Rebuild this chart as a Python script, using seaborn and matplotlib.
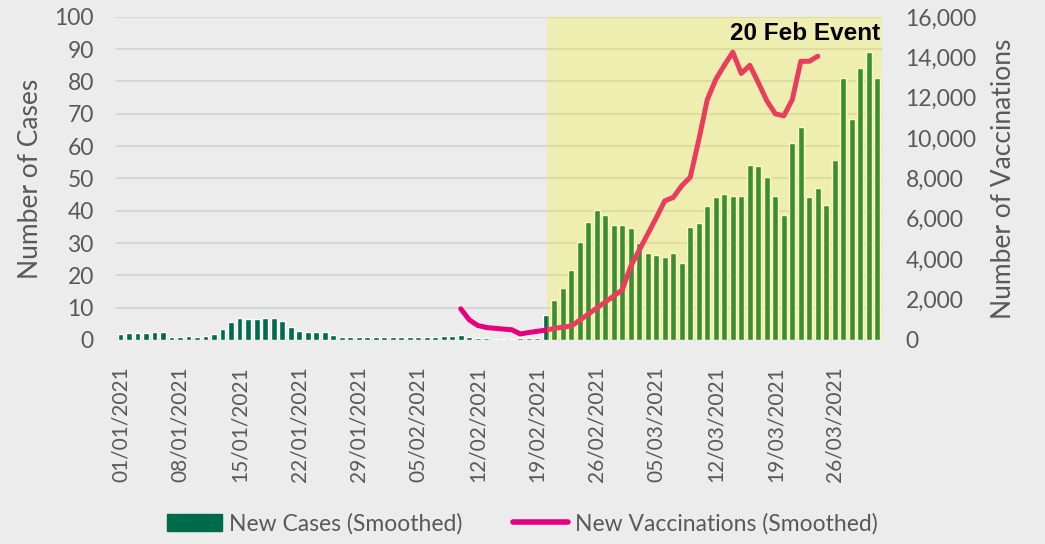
import numpy as np
import pandas as pd
import matplotlib
matplotlib.use("Agg")
import matplotlib.pyplot as plt
import matplotlib.patches as mpatches
import matplotlib.lines as mlines
import seaborn as sns

# dates on the x axis (one bar per day)
dates = pd.date_range("2021-01-01", "2021-03-31", freq="D")
date_labels = [d.strftime("%d/%m/%Y") for d in dates]

# new cases (smoothed)
new_cases = [
    2.0, 2.3, 2.3, 2.3, 2.5, 2.5, 0.95, 0.95, 1.3, 0.95,
    1.3, 1.9, 3.5, 5.5, 6.8, 6.6, 6.6, 6.8, 6.9, 5.9,
    4.1, 2.7, 2.5, 2.5, 2.5, 1.4, 0.8, 0.8, 0.8, 0.8,
    1.0, 0.8, 0.8, 0.8, 0.8, 1.0, 1.0, 0.9, 1.3, 1.3,
    1.4, 0.95, 0.6, 0.5, 0.4, 0.4, 0.3, 0.6, 0.5, 0.5,
    7.6, 12.5, 16.1, 21.8, 30.3, 36.6, 40.3, 38.6, 35.7, 35.6,
    34.7, 30.1, 27.0, 26.3, 25.8, 27.0, 23.7, 34.9, 36.1, 41.6,
    44.2, 45.3, 44.7, 44.7, 54.3, 53.9, 50.3, 44.7, 38.7, 61.1,
    66.0, 44.3, 47.0, 41.7, 55.6, 81.1, 68.3, 84.2, 89.0, 81.1,
]

# new vaccinations (smoothed), starts on 10/02/2021 (day index 40)
vacc_start = 40
new_vacc = [
    1545, 1000, 720, 620, 580, 540, 510, 300, 370, 430,
    490, 570, 640, 690, 980, 1280, 1580, 1880, 2180, 2480,
    3650, 4450, 5250, 6050, 6890, 7060, 7640, 8060, 9900, 11900,
    12900, 13600, 14250, 13200, 13600, 12750, 11850, 11200, 11100, 11900,
    13800, 13800, 14050,
]

event_day = 50  # 20 Feb

cases_df = pd.DataFrame({"day": np.arange(len(dates)), "label": date_labels, "cases": new_cases})
vacc_df = pd.DataFrame({"day": np.arange(vacc_start, vacc_start + len(new_vacc)), "vacc": new_vacc})

sns.set_theme(style="white")
plt.rcParams["font.family"] = ["Lato", "DejaVu Sans"]

bg = "#ececec"
grey = "#595959"
green = "#006b4a"
pink = "#e6007e"

fig = plt.figure(figsize=(10.45, 5.44), dpi=100, facecolor=bg)
ax = fig.add_axes([0.111, 0.375, 0.733, 0.594])
ax.set_facecolor(bg)

sns.barplot(data=cases_df, x="day", y="cases", color=green, saturation=1,
            width=0.66, ax=ax, native_scale=True, zorder=2)

ax.set_xlim(-0.55, 89.55)
ax.set_ylim(0, 100)
ax.set_yticks(np.arange(0, 101, 10))
ax.yaxis.grid(True, color="#d6d6d6", lw=1.5, zorder=0)
ax.set_axisbelow(True)
tick_pos = np.arange(0, len(dates), 7)
ax.set_xticks(tick_pos)
ax.set_xticklabels([date_labels[i] for i in tick_pos], rotation=90, va="top", ha="center")
ax.tick_params(axis="x", length=0, pad=19, labelsize=15, labelcolor=grey)
ax.tick_params(axis="y", length=0, pad=16, labelsize=16.5, labelcolor=grey)
ax.set_xlabel("")
ax.set_ylabel("Number of Cases", fontsize=19, color=grey, labelpad=8)
for s in ax.spines.values():
    s.set_visible(False)

ax2 = ax.twinx()
sns.lineplot(data=vacc_df, x="day", y="vacc", color=pink, lw=3.6, ax=ax2, zorder=3)
ax2.set_ylim(0, 16000)
ax2.set_yticks(np.arange(0, 16001, 2000))
ax2.set_yticklabels([f"{v:,}" for v in range(0, 16001, 2000)])
ax2.tick_params(axis="y", length=0, pad=17, labelsize=16.5, labelcolor=grey)
ax2.set_ylabel("Number of Vaccinations", fontsize=19, color=grey, labelpad=10)
ax2.grid(False)
for s in ax2.spines.values():
    s.set_visible(False)
ax2.set_xlim(-0.55, 89.55)

# event highlight drawn on top of bars and line
ax2.axvspan(event_day + 0.2, 89.55, color="#f5f500", alpha=0.25, lw=0, zorder=5)
ax2.text(89.3, 15750, "20 Feb Event", ha="right", va="top", fontsize=17.5,
         fontweight="bold", color="black", zorder=6,
         family=["Liberation Sans", "DejaVu Sans"])

handles = [
    mpatches.Patch(color=green, label="New Cases (Smoothed)"),
    mlines.Line2D([], [], color=pink, lw=4, label="New Vaccinations (Smoothed)"),
]
fig.legend(handles=handles, loc="lower center", bbox_to_anchor=(0.5, -0.02), ncol=2,
           frameon=False, handlelength=2.4, handleheight=0.75, columnspacing=2.2,
           handletextpad=0.3, labelcolor=grey,
           prop={"family": ["Lato", "DejaVu Sans"], "size": 16.5})

fig.savefig("out.png", dpi=100, facecolor=bg)
